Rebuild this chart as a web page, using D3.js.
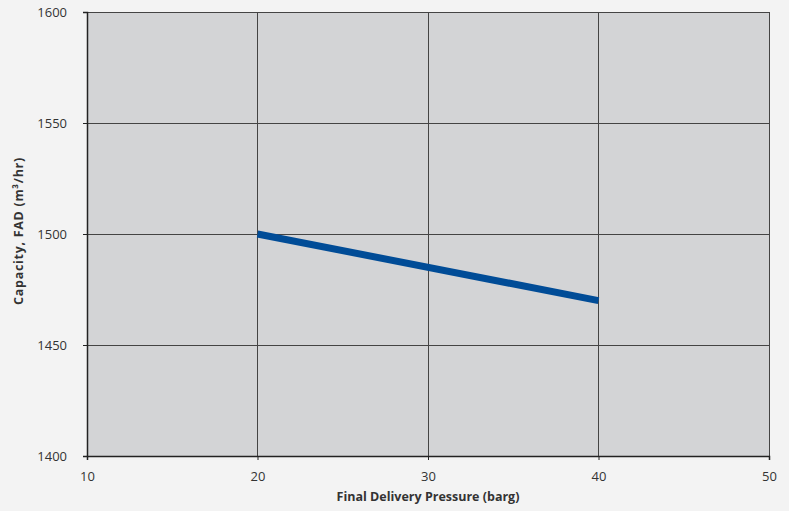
<!DOCTYPE html>
<html><head><meta charset="utf-8">
<script src="https://cdn.jsdelivr.net/npm/d3@7"></script>
<style>
html,body{margin:0;padding:0;background:#f3f3f3;}
svg{display:block;font-family:"Open Sans","DejaVu Sans",sans-serif;}
</style></head>
<body>
<svg id="c" width="789" height="511"></svg>
<script>
const pressure = [20, 40];
const capacity = [1500, 1470];
const xTicks = [10, 20, 30, 40, 50];
const yTicks = [1400, 1450, 1500, 1550, 1600];

const svg = d3.select("#c");
const m = {l: 87, r: 20, t: 12, b: 55};
const W = 789, H = 511;
const x = d3.scaleLinear().domain([10, 50]).range([m.l, W - m.r]);
const y = d3.scaleLinear().domain([1400, 1600]).range([H - m.b, m.t]);

svg.append("rect").attr("width", W).attr("height", H).attr("fill", "#f3f3f3");
svg.append("rect").attr("x", x(10)).attr("y", y(1600))
  .attr("width", x(50) - x(10)).attr("height", y(1400) - y(1600))
  .attr("fill", "#d3d4d6");

const g = svg.append("g");
g.selectAll(".vg").data(xTicks).join("line")
  .attr("x1", d => x(d)).attr("x2", d => x(d))
  .attr("y1", y(1600)).attr("y2", y(1400))
  .attr("stroke", "#444").attr("stroke-width", 1).attr("shape-rendering", "crispEdges");
g.selectAll(".hg").data(yTicks).join("line")
  .attr("x1", x(10)).attr("x2", x(50))
  .attr("y1", d => y(d)).attr("y2", d => y(d))
  .attr("stroke", "#444").attr("stroke-width", 1).attr("shape-rendering", "crispEdges");

const xa = svg.append("g").attr("transform", `translate(0,${y(1400)})`)
  .call(d3.axisBottom(x).tickValues(xTicks).tickFormat(d3.format("d")).tickSize(4).tickPadding(12));
const ya = svg.append("g").attr("transform", `translate(${x(10)},0)`)
  .call(d3.axisLeft(y).tickValues(yTicks).tickFormat(d3.format("d")).tickSize(4).tickPadding(16));
[xa, ya].forEach(a => {
  a.select(".domain").attr("stroke", "#222").attr("stroke-width", 1.5);
  a.selectAll(".tick line").attr("stroke", "#222");
  a.selectAll("text").attr("fill", "#333").style("font-size", "13px")
    .style("font-family", '"Open Sans","DejaVu Sans",sans-serif');
});
ya.selectAll("text").attr("dy", "0.35em");

const data = pressure.map((p, i) => [p, capacity[i]]);
svg.append("path").datum(data)
  .attr("d", d3.line().x(d => x(d[0])).y(d => y(d[1])))
  .attr("fill", "none").attr("stroke", "#004c97").attr("stroke-width", 7);

svg.append("text").attr("x", (x(10) + x(50)) / 2).attr("y", 501)
  .attr("text-anchor", "middle").attr("fill", "#333")
  .style("font-size", "12.5px").style("font-weight", "bold")
  .text("Final Delivery Pressure (barg)");
svg.append("text").attr("transform", `translate(23,231) rotate(-90)`)
  .attr("text-anchor", "middle").attr("fill", "#333")
  .style("font-size", "12.5px").style("font-weight", "bold").style("letter-spacing", "0.7px")
  .text("Capacity, FAD (m³/hr)");
</script>
</body></html>
